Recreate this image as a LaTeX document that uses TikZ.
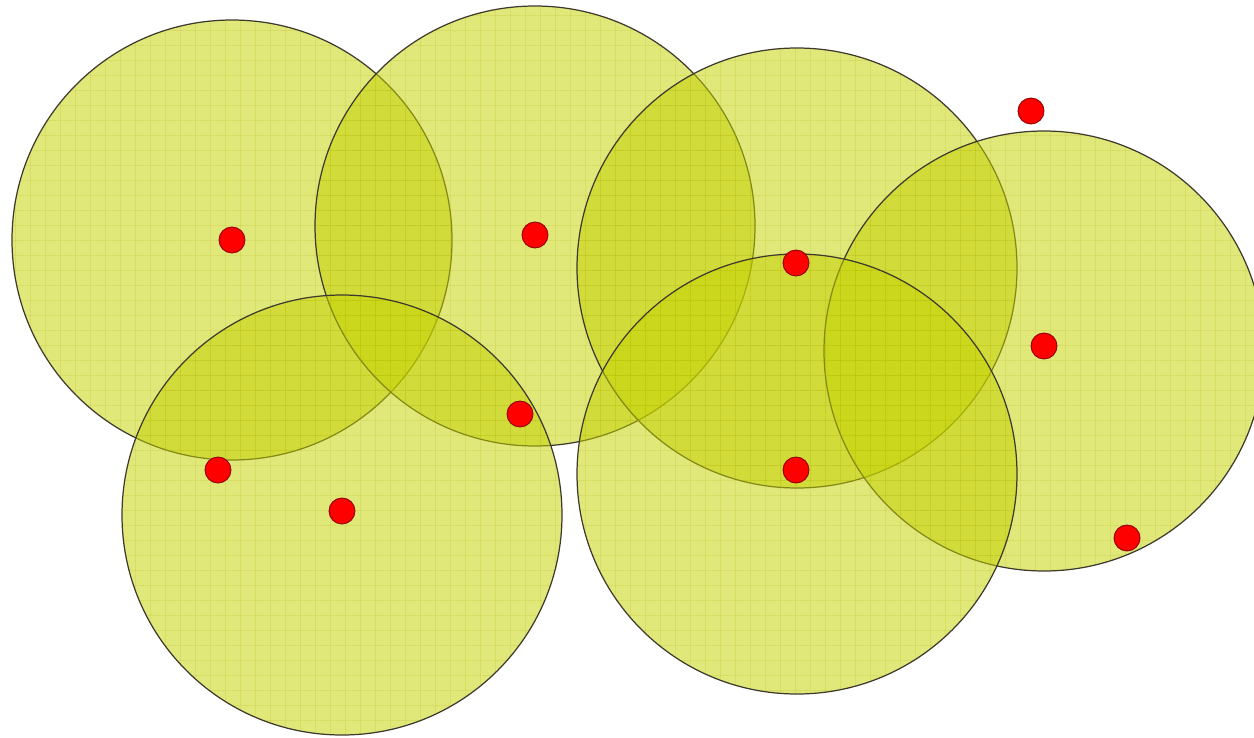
\documentclass[tikz,border=0pt]{standalone}
\usepackage{tikz}
\begin{document}
\begin{tikzpicture}[x=0.02cm, y=-0.02cm,
  cover/.style={fill=coverfill, fill opacity=0.52},
  rim/.style={draw=black!75!olive, line width=0.7pt},
  mesh/.style={draw=olive!70!yellow, line width=0.4pt, opacity=0.16},
  sensor/.style={circle, fill=red, draw=red!55!black, line width=0.5pt, minimum size=0.52cm, inner sep=0pt}]
\definecolor{coverfill}{RGB}{196,210,0}
\useasboundingbox (0,0) rectangle (1254,737);
% coverage discs
\foreach \cx/\cy in {232/240, 535/226, 797/268, 1044/351, 342/515, 797/474}{
  \fill[cover] (\cx,\cy) circle (220);
  \begin{scope}
    \clip (\cx,\cy) circle (220);
    \foreach \g in {0,15,...,1260}{
      \draw[mesh] (\g,0) -- (\g,737);
    }
    \foreach \g in {0,15,...,740}{
      \draw[mesh] (0,\g) -- (1254,\g);
    }
  \end{scope}
  \draw[rim] (\cx,\cy) circle (220);
}
% sensor nodes
\node[sensor] (s1) at (232,240) {};
\node[sensor] (s2) at (535,235) {};
\node[sensor] (s3) at (1031,111) {};
\node[sensor] (s4) at (796,263) {};
\node[sensor] (s5) at (1044,346) {};
\node[sensor] (s6) at (520,414) {};
\node[sensor] (s7) at (218,470) {};
\node[sensor] (s8) at (342,511) {};
\node[sensor] (s9) at (796,470) {};
\node[sensor] (s10) at (1127,538) {};
\end{tikzpicture}
\end{document}
